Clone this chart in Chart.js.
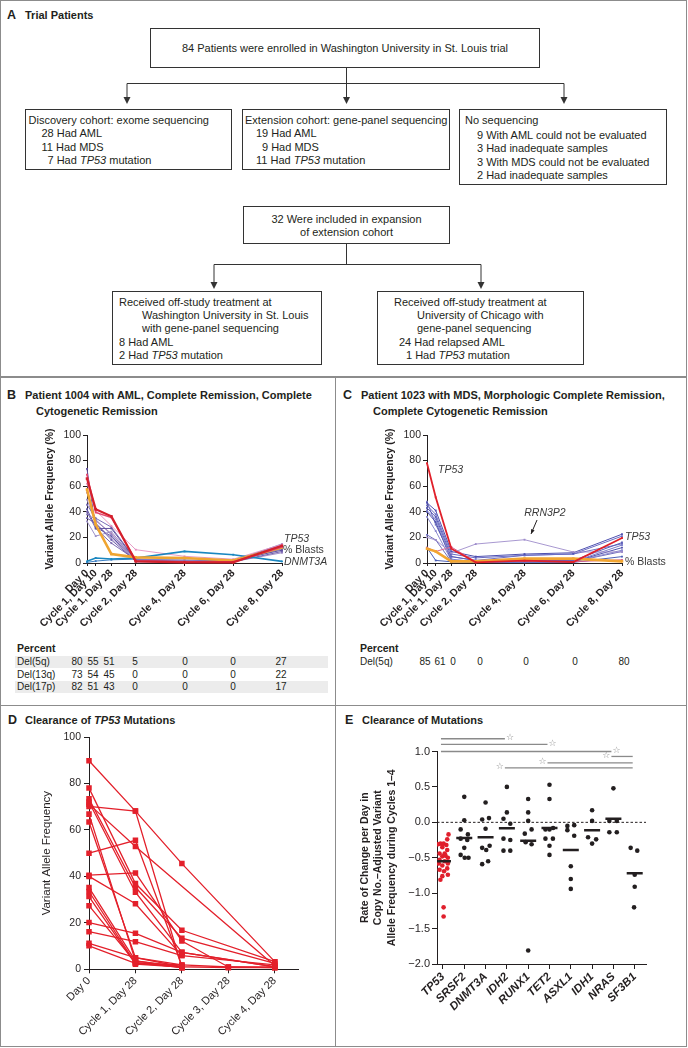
<!DOCTYPE html>
<html>
<head>
<meta charset="utf-8">
<title>Clearance of mutations</title>
<script src="https://cdn.jsdelivr.net/npm/chart.js@4.4.1/dist/chart.umd.min.js"></script>
<style>
  body { margin:0; width:688px; height:1048px; position:relative; overflow:hidden; background:#fff;
         font-family:"Liberation Sans", Arial, sans-serif; color:#231f20; }
  .frame { position:absolute; left:0; top:0; width:687px; height:1047px; box-sizing:border-box; border:1.5px solid #8c8c8c; }
  .rule { position:absolute; background:#8c8c8c; }
  .box { position:absolute; box-sizing:border-box; border:1px solid #333; background:#fff; font-size:11px; }
  .box .l { position:absolute; white-space:nowrap; line-height:14px; }
  .box .c { position:absolute; left:0; right:0; text-align:center; white-space:nowrap; line-height:14px; }
  .title { position:absolute; white-space:nowrap; font-weight:bold; font-size:11px; line-height:14px; }
  .key { position:absolute; font-weight:bold; font-size:12.5px; line-height:14px; }
  canvas { position:absolute; }
  .cell { position:absolute; font-size:10px; line-height:12px; white-space:nowrap; }
  .band { position:absolute; background:#ececec; }
</style>
</head>
<body>
<div class="frame"></div>
<div class="rule" style="left:0;top:376px;width:687px;height:1.5px"></div>
<div class="rule" style="left:0;top:704.5px;width:687px;height:1.5px"></div>
<div class="rule" style="left:334.5px;top:376px;width:1.5px;height:671px"></div>

<!-- A: flow of trial patients -->
<div class="key" style="left:7px;top:8px">A</div>
<div class="title" style="left:25px;top:8px">Trial Patients</div>

<svg width="688" height="377" style="position:absolute;left:0;top:0">
  <g stroke="#333" stroke-width="1" fill="none">
    <path d="M346.5 68 V83.5 M127 83.5 H564 M127 83.5 V98 M346.5 83.5 V98 M564 83.5 V98"/>
    <path d="M346.5 244 V264.5 M214 264.5 H481 M214 264.5 V283 M481 264.5 V283"/>
  </g>
  <g fill="#333">
    <polygon points="123.5,97 130.5,97 127,104"/>
    <polygon points="343,97 350,97 346.5,104"/>
    <polygon points="560.5,97 567.5,97 564,104"/>
    <polygon points="210.5,282 217.5,282 214,289"/>
    <polygon points="477.5,282 484.5,282 481,289"/>
  </g>
</svg>

<div class="box" style="left:150px;top:28px;width:390px;height:40px">
  <div class="c" style="top:12px">84 Patients were enrolled in Washington University in St. Louis trial</div>
</div>
<div class="box" style="left:25px;top:109px;width:207px;height:61px">
  <div class="l" style="left:2.5px;top:2.5px">Discovery cohort: exome sequencing</div>
  <div class="l" style="left:15.5px;top:16px">28 Had AML</div>
  <div class="l" style="left:15.5px;top:29.5px">11 Had MDS</div>
  <div class="l" style="left:21.5px;top:43px">7 Had <i>TP53</i> mutation</div>
</div>
<div class="box" style="left:242px;top:109px;width:208px;height:61px">
  <div class="l" style="left:2px;top:2.5px">Extension cohort: gene-panel sequencing</div>
  <div class="l" style="left:13px;top:16px">19 Had AML</div>
  <div class="l" style="left:19px;top:29.5px">9 Had MDS</div>
  <div class="l" style="left:13px;top:43px">11 Had <i>TP53</i> mutation</div>
</div>
<div class="box" style="left:459px;top:109px;width:208px;height:76px">
  <div class="l" style="left:5px;top:2.5px">No sequencing</div>
  <div class="l" style="left:17px;top:18px">9 With AML could not be evaluated</div>
  <div class="l" style="left:17px;top:31px">3 Had inadequate samples</div>
  <div class="l" style="left:17px;top:45px">3 With MDS could not be evaluated</div>
  <div class="l" style="left:17px;top:58px">2 Had inadequate samples</div>
</div>
<div class="box" style="left:243px;top:206px;width:207px;height:38px">
  <div class="c" style="top:5px">32 Were included in expansion</div>
  <div class="c" style="top:17.5px">of extension cohort</div>
</div>
<div class="box" style="left:112px;top:291px;width:210px;height:74px">
  <div class="l" style="left:6px;top:2.5px">Received off-study treatment at</div>
  <div class="l" style="left:29px;top:16px">Washington University in St. Louis</div>
  <div class="l" style="left:29px;top:29px">with gene-panel sequencing</div>
  <div class="l" style="left:6px;top:42.5px">8 Had AML</div>
  <div class="l" style="left:6px;top:56px">2 Had <i>TP53</i> mutation</div>
</div>
<div class="box" style="left:377px;top:291px;width:207px;height:74px">
  <div class="l" style="left:16px;top:2.5px">Received off-study treatment at</div>
  <div class="l" style="left:39px;top:16px">University of Chicago with</div>
  <div class="l" style="left:39px;top:29px">gene-panel sequencing</div>
  <div class="l" style="left:21px;top:42.5px">24 Had relapsed AML</div>
  <div class="l" style="left:28px;top:56px">1 Had <i>TP53</i> mutation</div>
</div>

<!-- panel titles -->
<div class="key" style="left:7px;top:388px">B</div>
<div class="title" style="left:25px;top:388px">Patient 1004 with AML, Complete Remission, Complete</div>
<div class="title" style="left:36px;top:403.5px">Cytogenetic Remission</div>
<div class="key" style="left:343px;top:388px">C</div>
<div class="title" style="left:361px;top:388px">Patient 1023 with MDS, Morphologic Complete Remission,</div>
<div class="title" style="left:373px;top:403.5px">Complete Cytogenetic Remission</div>
<div class="key" style="left:8px;top:713px">D</div>
<div class="title" style="left:25px;top:713px">Clearance of <i>TP53</i> Mutations</div>
<div class="key" style="left:345px;top:713px">E</div>
<div class="title" style="left:362px;top:713px">Clearance of Mutations</div>

<canvas id="chartB" width="335" height="205" style="left:0;top:425px"></canvas>
<canvas id="chartC" width="345" height="205" style="left:340px;top:425px"></canvas>
<canvas id="chartD" width="335" height="318" style="left:0;top:727px"></canvas>
<canvas id="chartE" width="345" height="318" style="left:340px;top:727px"></canvas>
<div id="tables"></div>

<script>
// ---------- B and C: variant allele frequency by visit ----------
const visitDays = [0, 10, 28, 56, 112, 168, 224];
const visitLabels = ['Day 0', 'Cycle 1, Day 10', 'Cycle 1, Day 28', 'Cycle 2, Day 28',
                     'Cycle 4, Day 28', 'Cycle 6, Day 28', 'Cycle 8, Day 28'];

// patient 1004 (AML)
const p1004TP53    = [66, 42, 36.5, 1.3, 0.5, 0.5, 13.5];
const p1004TP53b   = [69, 39.5, 35.5, 1.8, 1, 1, 12.5];
const p1004Blasts  = [57.5, 30, 7, 4.4, 3.9, 2, 12.2];
const p1004DNMT3A  = [1.3, 3.9, 3.1, 3.9, 9.1, 6.5, 1.3];
const p1004Pink    = [62, 41, 29, 10.4, 5.2, 3, 14.5];
const p1004Others  = [
  [73.5, 27, 27, 2, 1, 2, 10],
  [45.5, 35, 28, 2.6, 1, 2, 14],
  [38, 34, 22, 3, 2, 2, 11],
  [35, 31, 18, 1.5, 1, 1, 9],
  [32.5, 21, 24.5, 2, 2.5, 1.5, 15],
  [40, 27, 15.5, 2.5, 1.5, 1, 12],
  [49.5, 31, 19.5, 2, 1, 1, 8],
  [42, 28, 21, 1, 0.5, 1, 13],
  [55, 33, 23, 1.5, 1, 1, 11]
];
const p1004Blue2   = [0.5, 1.5, 2.5, 3, 2, 1.5, 12];

// patient 1023 (MDS)
const p1023TP53    = [78, 51.3, 11.2, 0.5, 1.8, 0.8, 19.5];
const p1023Blasts  = [11.2, 9.1, 1.3, 1.3, 3.4, 3.4, 1.3];
const p1023RRN3P2  = [20, 18, 7.8, 14.8, 18.2, 8.6, 8.6];
const p1023Pink    = [12, 9, 12.5, 1, 1.5, 1, 2.5];
const p1023Others  = [
  [47, 41, 9, 5, 7, 8, 22.5],
  [45, 38, 7, 4, 6, 7, 21],
  [43, 36, 5, 2, 2, 2, 16],
  [41, 34, 3, 1, 1, 1, 14],
  [40, 32, 2, 1, 1, 1, 12],
  [36, 25, 2, 1, 1, 1, 10],
  [22, 18, 1, 1, 1, 1, 9],
  [12, 2, 1, 0.5, 0.5, 0.5, 5],
  [48, 30, 5, 2, 6, 7, 15]
];

// cytogenetics tables (percent)
const delRowsB = ['Del(5q)', 'Del(13q)', 'Del(17p)'];
const delValsB = [[80, 55, 51, 5, 0, 0, 27], [73, 54, 45, 0, 0, 0, 22], [82, 51, 43, 0, 0, 0, 17]];
const delRowsC = ['Del(5q)'];
const delValsC = [[85, 61, 0, 0, 0, 0, 80]];

// ---------- D: TP53 clearance ----------
const tp53Visits = ['Day 0', 'Cycle 1, Day 28', 'Cycle 2, Day 28', 'Cycle 3, Day 28', 'Cycle 4, Day 28'];
const tp53Patients = [
  [89.8, 68.1, 45.5, null, 3.3],
  [70.1, 68.1, 0.8, null, null],
  [71.1, 52.9, null, null, 1.5],
  [50.0, 55.5, 1.5, null, null],
  [78.0, 36.9, 16.8, null, 3.3],
  [73.4, 35.3, 13.4, null, 2.5],
  [72.0, 33.2, 7.3, null, 1.0],
  [66.8, 3.6, 1.1, null, null],
  [63.4, 5.0, 1.9, null, null],
  [40.5, 41.5, 12.2, 1.0, 0.7],
  [40.0, 28.2, 5.9, null, null],
  [35.2, 3.6, 0.7, null, null],
  [33.5, 2.6, 1.1, 0.7, 0.7],
  [31.3, 2.2, 1.0, null, null],
  [27.4, 3.0, 0.7, null, null],
  [20.1, 15.5, 7.3, null, 1.1],
  [16.2, 11.9, 5.9, null, 1.9],
  [11.2, 5.0, 1.1, null, null],
  [10.1, 2.6, 1.9, 1.0, 1.0]
];

// ---------- E: rate of change per gene ----------
const genes = ['TP53', 'SRSF2', 'DNMT3A', 'IDH2', 'RUNX1', 'TET2', 'ASXL1', 'IDH1', 'NRAS', 'SF3B1'];
const geneRates = [
  [-0.17, -0.24, -0.30, -0.30, -0.32, -0.35, -0.39, -0.44, -0.44, -0.48, -0.50, -0.53, -0.55,
   -0.58, -0.61, -0.65, -0.67, -0.69, -0.74, -0.76, -0.81, -1.20, -1.33, -0.31, -0.47, -0.58],
  [0.36, 0.03, -0.10, -0.17, -0.23, -0.25, -0.36, -0.46, -0.50, -0.50],
  [0.28, 0.04, 0.06, -0.09, -0.36, -0.39, -0.33, -0.59, -0.55],
  [0.50, 0.14, 0.05, -0.02, -0.23, -0.25, -0.40, -0.40],
  [0.33, 0.14, 0.02, -0.10, -0.16, -0.28, -0.31, -1.81],
  [0.53, 0.33, -0.10, -0.10, -0.08, -0.23, -0.23, -0.33, -0.46],
  [-0.05, -0.04, -0.11, -0.19, -0.62, -0.80, -0.94],
  [0.17, 0.02, -0.21, -0.24, -0.30],
  [0.48, 0.02, 0.02, -0.14, -0.14],
  [-0.36, -0.40, -0.74, -0.91, -1.20]
];
// horizontal spread of the dots inside each gene column (category units)
const geneJitter = [
  [0.26, 0.2, -0.12, 0.03, 0.16, -0.03, 0.2, -0.16, 0.08, -0.03, 0.23, -0.16, 0.08,
   0.23, -0.03, 0.2, -0.16, 0.05, 0.23, -0.03, -0.12, 0.03, 0.03, -0.23, 0.12, -0.2],
  [0, 0, -0.17, 0.17, -0.17, 0.14, 0, -0.17, 0.02, 0.2],
  [0, -0.16, 0.16, 0, -0.16, 0.03, 0.19, -0.16, 0.12],
  [0, 0, -0.16, 0.16, -0.16, 0.16, -0.16, 0.16],
  [0, 0, 0, 0.16, -0.16, -0.12, 0.16, 0],
  [0, 0, -0.19, 0, 0.17, -0.19, 0.16, 0, 0],
  [-0.16, 0.16, -0.16, 0.16, 0, 0, 0],
  [0, 0, -0.19, 0.19, 0],
  [0, -0.19, 0.16, -0.19, 0.16],
  [-0.19, 0.12, 0, 0, -0.03]
];
const geneMeans = [-0.55, -0.22, -0.21, -0.085, -0.26, -0.08, -0.39, -0.11, 0.05, -0.72];
// significance brackets: from gene, to gene, height, side of the star
const sigBars = [
  [0, 3, 1.18, 'right'],
  [0, 5, 1.10, 'right'],
  [0, 8, 1.00, 'right'],
  [8, 9, 0.93, 'left'],
  [5, 9, 0.84, 'left'],
  [3, 9, 0.77, 'left']
];

const INK = '#231f20';
const FAM = '"Liberation Sans", Arial, sans-serif';
Chart.defaults.font.family = FAM;
Chart.defaults.color = INK;

// text labels / arrows placed in data coordinates
const notesPlugin = {
  id: 'notes',
  afterDatasetsDraw(chart, args, opts) {
    const {ctx, scales: {x, y}} = chart;
    ctx.save();
    ctx.textBaseline = 'middle';
    (opts.items || []).forEach(n => {
      ctx.font = (n.italic ? 'italic ' : '') + '10.5px ' + FAM;
      ctx.fillStyle = '#3a3a3a';
      ctx.textAlign = n.align || 'left';
      ctx.fillText(n.text, x.getPixelForValue(n.x) + (n.dx || 0), y.getPixelForValue(n.y));
    });
    (opts.arrows || []).forEach(a => {
      const x1 = x.getPixelForValue(a.from[0]), y1 = y.getPixelForValue(a.from[1]);
      const x2 = x.getPixelForValue(a.to[0]), y2 = y.getPixelForValue(a.to[1]);
      const ang = Math.atan2(y2 - y1, x2 - x1);
      ctx.strokeStyle = INK; ctx.fillStyle = INK; ctx.lineWidth = 1;
      ctx.beginPath(); ctx.moveTo(x1, y1); ctx.lineTo(x2, y2); ctx.stroke();
      ctx.beginPath();
      ctx.moveTo(x2, y2);
      ctx.lineTo(x2 - 5 * Math.cos(ang - 0.4), y2 - 5 * Math.sin(ang - 0.4));
      ctx.lineTo(x2 - 5 * Math.cos(ang + 0.4), y2 - 5 * Math.sin(ang + 0.4));
      ctx.closePath(); ctx.fill();
    });
    ctx.restore();
  }
};

function vafChart(id, lines, notes, arrows, padRight) {
  return new Chart(document.getElementById(id), {
    type: 'line',
    data: {
      datasets: lines.map(s => ({
        data: visitDays.map((d, i) => ({x: d, y: s.values[i]})),
        borderColor: s.color, backgroundColor: s.color,
        borderWidth: s.width, pointRadius: s.width > 2 ? 1.8 : 1.3,
        pointStyle: 'rect', pointBorderWidth: 0, clip: 6
      }))
    },
    options: {
      responsive: false, animation: false, devicePixelRatio: 1,
      layout: {padding: {left: 44, right: padRight, top: 10, bottom: 0}},
      plugins: {legend: {display: false}, tooltip: {enabled: false}, notes: {items: notes, arrows: arrows}},
      scales: {
        x: {
          type: 'linear', min: 0, max: 224,
          afterBuildTicks: s => { s.ticks = visitDays.map(v => ({value: v})); },
          afterFit: s => { s.height = 67; },
          ticks: {autoSkip: false, minRotation: 45, maxRotation: 45, padding: 1,
                  font: {size: 10.5, weight: 'bold'}, callback: (v, i) => visitLabels[i]},
          grid: {drawOnChartArea: false, tickLength: 3, color: INK},
          border: {color: INK, width: 1}
        },
        y: {
          min: 0, max: 100,
          afterFit: s => { s.width = 43; },
          ticks: {stepSize: 20, padding: 2, font: {size: 10.5}},
          grid: {drawOnChartArea: false, tickLength: 4, color: INK},
          border: {color: INK, width: 1},
          title: {display: true, text: 'Variant Allele Frequency (%)', padding: {top: 0, bottom: 0},
                  font: {size: 10.5, weight: 'bold'}}
        }
      }
    },
    plugins: [notesPlugin]
  });
}

const purples = ['#5e4f9e', '#7a6db5', '#8d80c0', '#6f5fae', '#9d90c8', '#7b68b0', '#a38fc6', '#5f58a8', '#b07db8'];
const blues = ['#4d4fb0', '#6a6cc4', '#5a5cb8', '#7d7fcc', '#5052ad', '#8a88d0', '#6f6ebd', '#4a5fb5', '#7070c0'];

vafChart('chartB', [
  {values: p1004TP53, color: '#d4202c', width: 2.2},
  {values: p1004TP53b, color: '#e2476f', width: 1.5},
  {values: p1004Blasts, color: '#f0a531', width: 2.6},
  {values: p1004DNMT3A, color: '#1a87c0', width: 1.6},
  {values: p1004Pink, color: '#e48fc0', width: 0.9},
  ...p1004Others.map((v, i) => ({values: v, color: purples[i], width: 1})),
  {values: p1004Blue2, color: '#3b7fc4', width: 1}
], [
  {x: 224, y: 18.5, text: 'TP53', italic: true, dx: 2},
  {x: 224, y: 10.4, text: '% Blasts', dx: 1},
  {x: 224, y: 0.8, text: 'DNMT3A', italic: true, dx: 2}
], [], 53);

vafChart('chartC', [
  {values: p1023TP53, color: '#e0202a', width: 1.8},
  {values: p1023Blasts, color: '#f2a531', width: 2.6},
  {values: p1023RRN3P2, color: '#9e8ccb', width: 0.9},
  {values: p1023Pink, color: '#d9608f', width: 1},
  ...p1023Others.map((v, i) => ({values: v, color: blues[i], width: 1}))
], [
  {x: 12.6, y: 72.7, text: 'TP53', italic: true},
  {x: 135.5, y: 39, text: 'RRN3P2', italic: true, align: 'center'},
  {x: 224, y: 20.5, text: 'TP53', italic: true, dx: 3},
  {x: 224, y: 0.5, text: '% Blasts', dx: 3}
], [
  {from: [126.4, 33.6], to: [119.5, 22.7]}
], 63);

// ---------- D ----------
new Chart(document.getElementById('chartD'), {
  type: 'line',
  data: {
    datasets: tp53Patients.map(p => ({
      data: p.map((v, i) => ({x: i, y: v})),
      borderColor: '#e3202b', backgroundColor: '#e3202b', borderWidth: 1.3,
      pointStyle: 'rect', pointRadius: 3.9, pointBorderWidth: 0, spanGaps: true, clip: 8
    }))
  },
  options: {
    responsive: false, animation: false, devicePixelRatio: 1,
    layout: {padding: {left: 40, right: 37, top: 10, bottom: 0}},
    plugins: {legend: {display: false}, tooltip: {enabled: false}},
    scales: {
      x: {
        type: 'linear', min: 0, max: 4.5,
        afterBuildTicks: s => { s.ticks = tp53Visits.map((_, i) => ({value: i})); },
        afterFit: s => { s.height = 75.7; },
        ticks: {autoSkip: false, minRotation: 45, maxRotation: 45, padding: 1,
                font: {size: 11}, callback: (v, i) => tp53Visits[i]},
        grid: {drawOnChartArea: false, tickLength: 4, color: INK},
        border: {color: INK, width: 1}
      },
      y: {
        min: 0, max: 100,
        afterFit: s => { s.width = 49; },
        ticks: {stepSize: 20, padding: 3, font: {size: 10.5}},
        grid: {drawOnChartArea: false, tickLength: 5, color: INK},
        border: {color: INK, width: 1},
        title: {display: true, text: 'Variant Allele Frequency', padding: {top: 0, bottom: 0},
                font: {size: 11.5}}
      }
    }
  }
});

// ---------- E ----------
const sigPlugin = {
  id: 'sig',
  beforeDatasetsDraw(chart) {
    const {ctx, chartArea, scales: {y}} = chart;
    const y0 = y.getPixelForValue(0);
    ctx.save();
    ctx.setLineDash([2.5, 2]); ctx.strokeStyle = INK; ctx.lineWidth = 1;
    ctx.beginPath(); ctx.moveTo(chartArea.left, y0); ctx.lineTo(chartArea.right, y0); ctx.stroke();
    ctx.restore();
  },
  afterDatasetsDraw(chart) {
    const {ctx, scales: {x, y}} = chart;
    ctx.save();
    ctx.strokeStyle = '#8a8a8a'; ctx.fillStyle = '#8a8a8a'; ctx.lineWidth = 1.3;
    ctx.font = '9px "DejaVu Sans"'; ctx.textBaseline = 'middle';
    sigBars.forEach(([from, to, level, side]) => {
      const yy = y.getPixelForValue(level);
      const x1 = x.getPixelForValue(from) - 2;
      const x2 = x.getPixelForValue(to) - 2;
      ctx.beginPath(); ctx.moveTo(x1, yy); ctx.lineTo(x2, yy); ctx.stroke();
      if (side === 'right') { ctx.textAlign = 'left'; ctx.fillText('\u2606', x2 + 1, yy - 1); }
      else { ctx.textAlign = 'right'; ctx.fillText('\u2606', x1 - 1, yy - 1); }
    });
    ctx.restore();
  }
};

new Chart(document.getElementById('chartE'), {
  type: 'scatter',
  data: {
    datasets: [
      {
        data: geneMeans.map((m, i) => ({x: i, y: m})),
        pointStyle: 'line', pointRadius: 8, pointBorderWidth: 2.5,
        borderColor: INK, backgroundColor: INK
      },
      ...geneRates.map((vals, g) => ({
        data: vals.map((v, k) => ({x: g + geneJitter[g][k], y: v})),
        pointRadius: 2.3, pointBorderWidth: 0,
        backgroundColor: g === 0 ? '#e01f2c' : INK, borderColor: g === 0 ? '#e01f2c' : INK
      }))
    ]
  },
  options: {
    responsive: false, animation: false, devicePixelRatio: 1,
    layout: {padding: {left: 18, right: 39, top: 24.5, bottom: 0}},
    plugins: {legend: {display: false}, tooltip: {enabled: false}},
    scales: {
      x: {
        type: 'linear', min: -0.28, max: 9.53,
        afterBuildTicks: s => { s.ticks = genes.map((_, i) => ({value: i})); },
        afterFit: s => { s.height = 81; },
        ticks: {autoSkip: false, minRotation: 45, maxRotation: 45, padding: 1,
                font: {size: 11.5, weight: 'bold', style: 'italic'}, callback: (v, i) => genes[i]},
        grid: {drawOnChartArea: false, tickLength: 5, color: INK},
        border: {color: INK, width: 1}
      },
      y: {
        min: -2, max: 1,
        afterFit: s => { s.width = 79; },
        ticks: {stepSize: 0.5, padding: 2, font: {size: 11},
                callback: v => (v < 0 ? '\u2212' : '') + Math.abs(v).toFixed(1)},
        grid: {drawOnChartArea: false, tickLength: 5, color: INK},
        border: {color: INK, width: 1},
        title: {display: true, padding: {top: 0, bottom: 0},
                text: ['Rate of Change per Day in', 'Copy No.\u2013Adjusted Variant', 'Allele Frequency during Cycles 1\u20134'],
                font: {size: 10.5, weight: 'bold', lineHeight: 1.3}}
      }
    }
  },
  plugins: [sigPlugin]
});

// ---------- cytogenetics tables ----------
function delTable(headX, bandX, bandW, cols, rows, vals, shaded) {
  const host = document.getElementById('tables');
  const add = (html, style, cls) => {
    const d = document.createElement('div');
    d.className = cls || 'cell'; d.innerHTML = html; d.style.cssText = style;
    host.appendChild(d);
  };
  add('Percent', `left:${headX}px;top:642px;font-weight:bold;font-size:10.5px`);
  rows.forEach((r, ri) => {
    const cy = 662 + ri * 12.5;
    if (shaded && ri % 2 === 0) add('', `left:${bandX}px;top:${cy - 6}px;width:${bandW}px;height:12px`, 'band');
    add(r, `left:${headX}px;top:${cy - 6}px`);
    vals[ri].forEach((v, ci) => add(v, `left:${cols[ci] - 10}px;width:20px;text-align:center;top:${cy - 6}px`));
  });
}
delTable(17, 15, 313, [77, 93, 109, 135, 185, 233, 281], delRowsB, delValsB, true);
delTable(360, 0, 0, [425, 440, 453, 480, 526, 575, 624], delRowsC, delValsC, false);
</script>
</body>
</html>
